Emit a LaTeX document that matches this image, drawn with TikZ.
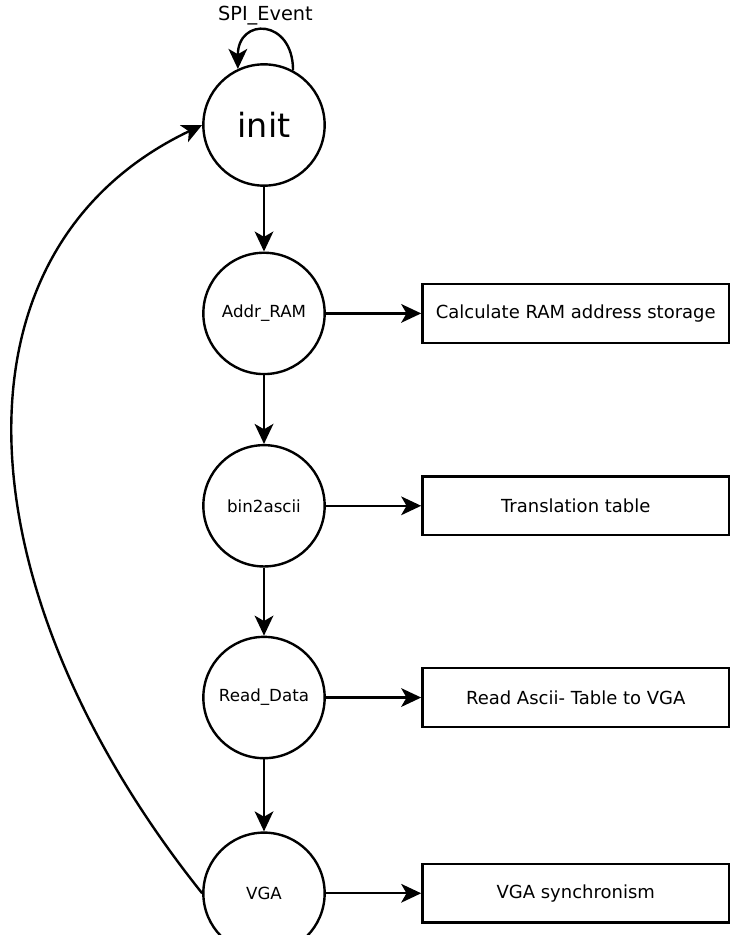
\documentclass[tikz,border=0pt]{standalone}
\usepackage{fontspec}
\setmainfont{DejaVu Sans}
\usetikzlibrary{positioning,arrows.meta}

\begin{document}
\begin{tikzpicture}[x=0.75pt,y=-0.75pt,line width=1.8pt,
  stnode/.style={draw,circle,minimum size=91pt,inner sep=0pt,font=\fontsize{12.5}{14}\selectfont},
  taskbox/.style={draw,rectangle,minimum width=230pt,minimum height=44pt,font=\fontsize{13.5}{16}\selectfont},
  arr/.style={-{Stealth[length=15pt,width=14pt,inset=4pt]}}]
  \useasboundingbox (0,0) rectangle (734,935);
  % the state chain
  \node[stnode,font=\fontsize{25}{30}\selectfont] (init) at (264,125) {init};
  \node[stnode] (addr) [below=48.5pt of init] {Addr\_RAM};
  \node[stnode] (bin) [below=51.5pt of addr] {bin2ascii};
  \node[stnode] (read) [below=51pt of bin] {Read\_Data};
  \node[stnode] (vga) [below=54pt of read] {VGA};
  \draw[arr] (init) -- (addr);
  \draw[arr] (addr) -- (bin);
  \draw[arr] (bin) -- (read);
  \draw[arr] (read) -- (vga);
  % what each state does
  \node[taskbox] (addrtask) [right=71.5pt of addr] {Calculate RAM address storage};
  \node[taskbox] (bintask) [right=71.5pt of bin] {Translation table};
  \node[taskbox] (readtask) [right=71.5pt of read] {Read Ascii- Table to VGA};
  \node[taskbox] (vgatask) [right=71.5pt of vga] {VGA synchronism};
  \draw[arr] (addr) -- (addrtask);
  \draw[arr] (bin) -- (bintask);
  \draw[arr] (read) -- (readtask);
  \draw[arr] (vga) -- (vgatask);
  % self loop and the way back
  \draw[arr] (init.62) .. controls +(0,-52) and +(0,-52) ..
        node[above,font=\fontsize{14.5}{16}\selectfont] {SPI\_Event} (init.115);
  \draw[arr] (vga.180) .. controls (-40,590) and (-60,250) .. (init.180);
\end{tikzpicture}
\end{document}
